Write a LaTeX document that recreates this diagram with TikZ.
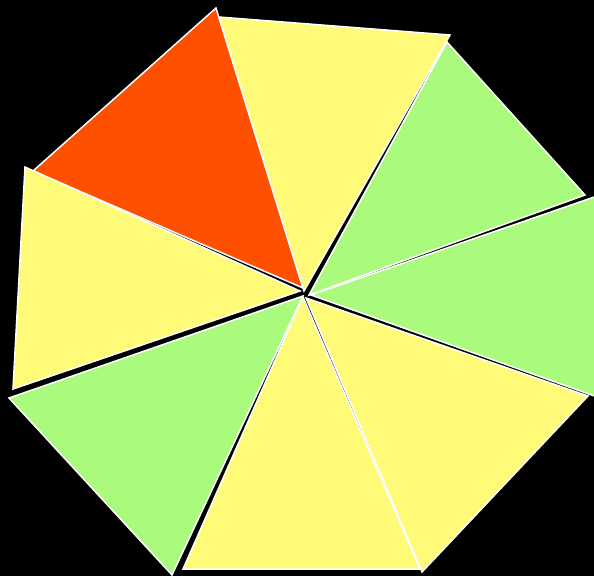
\documentclass[tikz,border=0pt]{standalone}
\usepackage{xcolor}
\definecolor{wedgeorange}{RGB}{255,80,0}
\definecolor{wedgeyellow}{RGB}{255,250,120}
\definecolor{wedgegreen}{RGB}{170,250,125}
\begin{document}
\begin{tikzpicture}[x=1pt, y=-1pt,
    wedge/.style={draw=white, line width=1.5pt, line join=miter}]
    \fill[black] (0,0) rectangle (594,576);
    \useasboundingbox (0,0) rectangle (594,576);
    \clip (0,0) rectangle (594,576);

    \filldraw[wedge, fill=wedgeorange] (303,288) -- (216,8) -- (33,171) -- cycle;
    \filldraw[wedge, fill=wedgeyellow] (304,291) -- (219,17) -- (450,35) -- cycle;
    \filldraw[wedge, fill=wedgegreen] (309,295) -- (447,42) -- (585,195) -- cycle;
    \filldraw[wedge, fill=wedgegreen] (311,295) -- (600,195) -- (600,398) -- cycle;
    \filldraw[wedge, fill=wedgeyellow] (306,298) -- (588,396) -- (422,572) -- cycle;
    \filldraw[wedge, fill=wedgeyellow] (303,297) -- (420,569) -- (183,569) -- cycle;
    \filldraw[wedge, fill=wedgegreen] (303,296) -- (172,575) -- (9,398) -- cycle;
    \filldraw[wedge, fill=wedgeyellow] (300,291) -- (13,389) -- (25,167) -- cycle;
\end{tikzpicture}
\end{document}
